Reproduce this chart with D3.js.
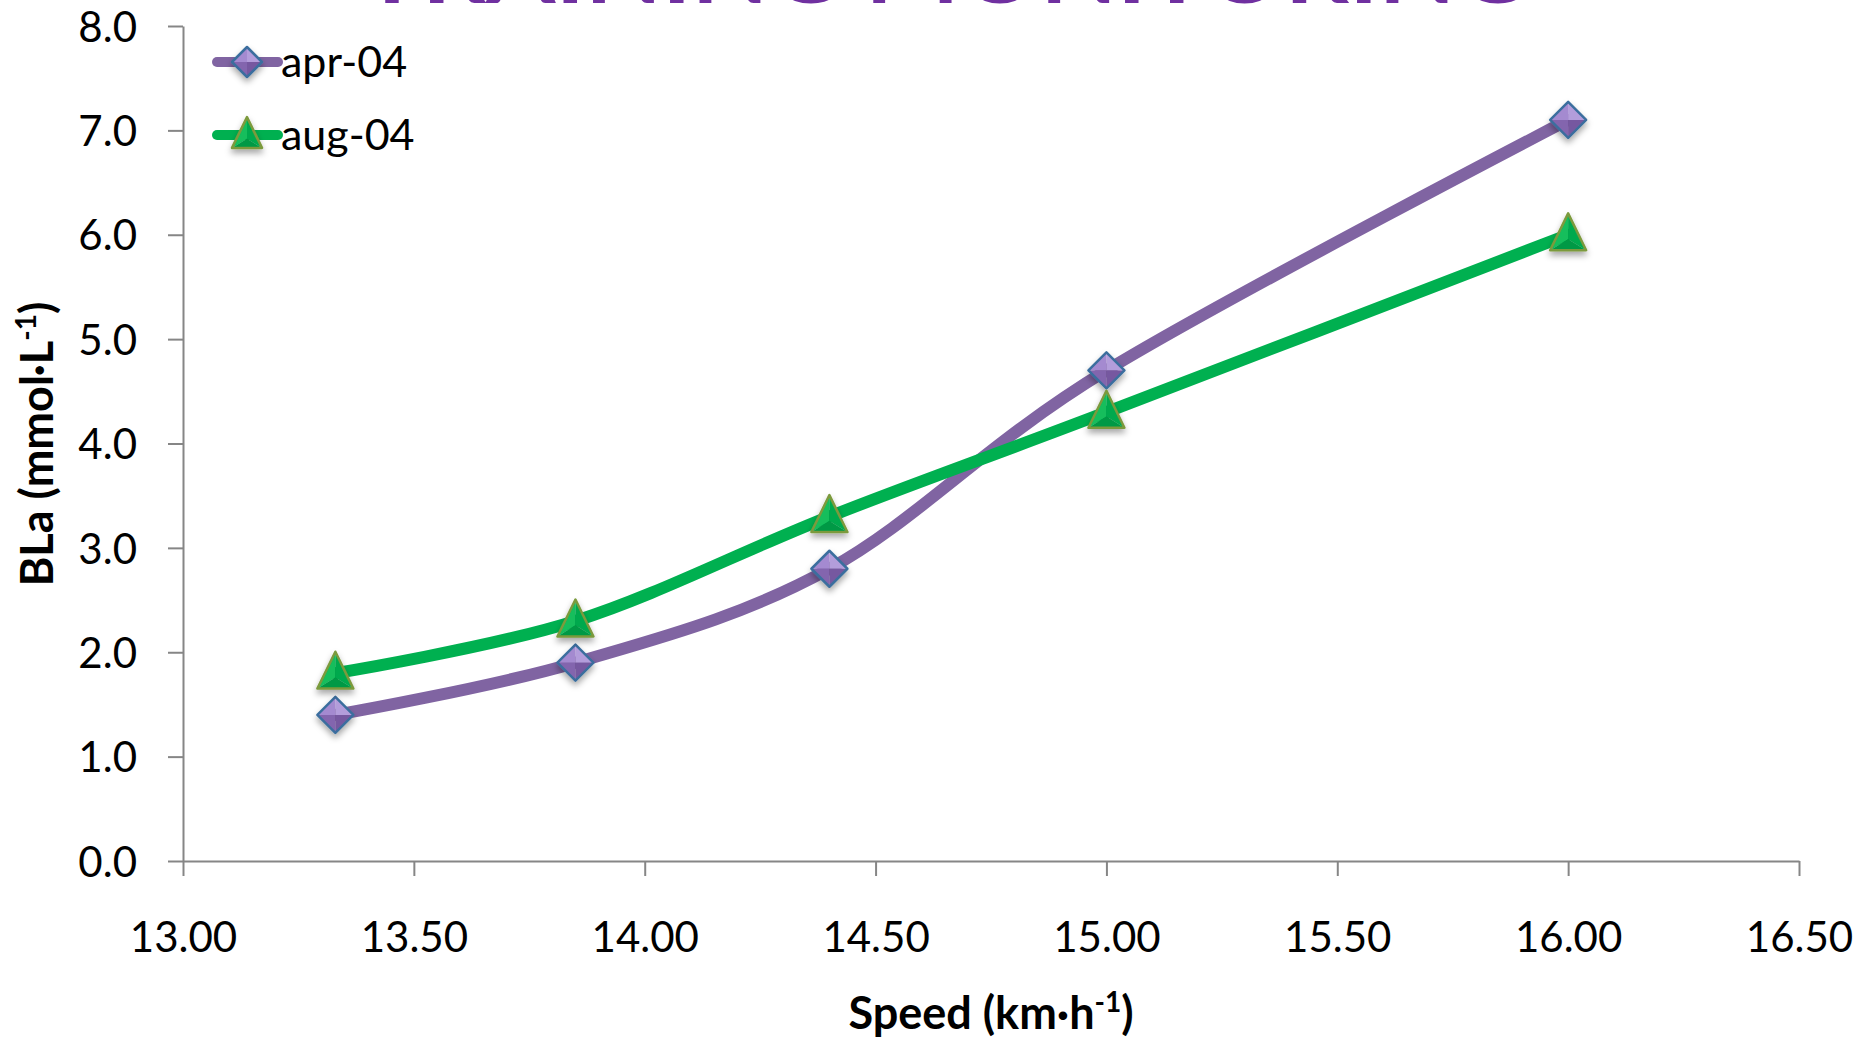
<!DOCTYPE html>
<html>
<head>
<meta charset="utf-8">
<script src="https://cdn.jsdelivr.net/npm/d3@7"></script>
<style>
  html, body { margin: 0; padding: 0; background: #fff; }
  svg { display: block; }
  text { font-family: Lato, "Open Sans", sans-serif; }
</style>
</head>
<body>
<script>
var speeds = [13.33, 13.85, 14.40, 15.00, 16.00];
var apr04 = [1.4, 1.9, 2.8, 4.7, 7.1];
var aug04 = [1.8, 2.3, 3.3, 4.3, 6.0];
var seriesNames = ["apr-04", "aug-04"];
var xTicks = [13.0, 13.5, 14.0, 14.5, 15.0, 15.5, 16.0, 16.5];
var yTicks = [0, 1, 2, 3, 4, 5, 6, 7, 8];

var W = 1871, H = 1039;
var svg = d3.select("body").append("svg").attr("width", W).attr("height", H);

var defs = svg.append("defs");
var shadow = defs.append("filter").attr("id", "shadow")
    .attr("x", "-50%").attr("y", "-50%").attr("width", "200%").attr("height", "200%");
shadow.append("feDropShadow").attr("dx", 0).attr("dy", 4).attr("stdDeviation", 3)
    .attr("flood-color", "#000").attr("flood-opacity", 0.35);

var x = d3.scaleLinear().domain([13, 16.5]).range([183, 1799]);
var y = d3.scaleLinear().domain([0, 8]).range([861, 26]);

// title, mostly cut off above the top edge (as in the slide)
svg.append("text").text("TRAINING MONITORING")
    .attr("x", 945).attr("y", 3)
    .attr("text-anchor", "middle")
    .attr("textLength", 1166).attr("lengthAdjust", "spacingAndGlyphs")
    .attr("fill", "#7030A0").attr("font-weight", "bold").attr("font-size", 92);

// axes
var axisColor = "#868686";
var gx = svg.append("g").attr("transform", "translate(0," + y(0) + ")")
    .call(d3.axisBottom(x).tickValues(xTicks).tickFormat(d3.format(".2f")).tickSizeInner(15).tickSizeOuter(0).tickPadding(68));
var gy = svg.append("g").attr("transform", "translate(" + x(13) + ",0)")
    .call(d3.axisLeft(y).tickValues(yTicks).tickFormat(d3.format(".1f")).tickSizeInner(15).tickSizeOuter(0).tickPadding(31));
[gx, gy].forEach(function (g) {
    g.select(".domain").attr("stroke", axisColor).attr("stroke-width", 2);
    g.selectAll(".tick line").attr("stroke", axisColor).attr("stroke-width", 2);
    g.selectAll(".tick text").attr("fill", "#000").attr("font-size", 42)
        .attr("font-family", "Lato, 'Open Sans', sans-serif");
});
gx.selectAll(".tick text").attr("dy", "0.2em");
gy.selectAll(".tick text").attr("dy", "0.36em");

// axis titles
var xt = svg.append("text").attr("x", 991).attr("y", 1029)
    .attr("text-anchor", "middle").attr("font-weight", "bold").attr("font-size", 45);
xt.append("tspan").text("Speed (km\u00b7h");
xt.append("tspan").text("-1").attr("font-size", 28).attr("dy", -17);
xt.append("tspan").text(")").attr("dy", 17);

var yt = svg.append("text").attr("transform", "translate(53,444) rotate(-90)")
    .attr("text-anchor", "middle").attr("font-weight", "bold").attr("font-size", 45);
yt.append("tspan").text("BLa (mmol\u00b7L");
yt.append("tspan").text("-1").attr("font-size", 28).attr("dy", -17);
yt.append("tspan").text(")").attr("dy", 17);

// series
var series = [
    { name: seriesNames[0], values: apr04, color: "#8064A2", marker: "diamond" },
    { name: seriesNames[1], values: aug04, color: "#00B050", marker: "triangle" }
];

var line = d3.line()
    .x(function (d, i) { return x(speeds[i]); })
    .y(function (d) { return y(d); })
    .curve(d3.curveCatmullRom.alpha(0));

series.forEach(function (s) {
    svg.append("path").attr("d", line(s.values))
        .attr("fill", "none").attr("stroke", s.color).attr("stroke-width", 12)
        .attr("stroke-linecap", "round").attr("stroke-linejoin", "round");
});

function drawMarker(g, type, cx, cy, r) {
    var m = g.append("g").attr("transform", "translate(" + cx + "," + cy + ")")
        .attr("filter", "url(#shadow)");
    if (type === "diamond") {
        // four facets of a little pyramid
        m.append("path").attr("d", "M0," + (-r) + " L" + (-r) + ",0 L0,0 Z").attr("fill", "#A48AD0");
        m.append("path").attr("d", "M0," + (-r) + " L" + r + ",0 L0,0 Z").attr("fill", "#B39DDB");
        m.append("path").attr("d", "M" + (-r) + ",0 L0," + r + " L0,0 Z").attr("fill", "#8365AE");
        m.append("path").attr("d", "M" + r + ",0 L0," + r + " L0,0 Z").attr("fill", "#7659A0");
        m.append("path").attr("d", "M0," + (-r) + " L" + r + ",0 L0," + r + " L" + (-r) + ",0 Z")
            .attr("fill", "none").attr("stroke", "#3B6E9E").attr("stroke-width", 2.5)
            .attr("stroke-linejoin", "round");
    } else {
        var h = r * 2.05, top = -h * 0.58, bot = h * 0.42, cyc = h * 0.12;
        m.append("path").attr("d", "M0," + top + " L" + (-r) + "," + bot + " L0," + cyc + " Z").attr("fill", "#12BE5C");
        m.append("path").attr("d", "M0," + top + " L" + r + "," + bot + " L0," + cyc + " Z").attr("fill", "#05A94E");
        m.append("path").attr("d", "M" + (-r) + "," + bot + " L" + r + "," + bot + " L0," + cyc + " Z").attr("fill", "#009944");
        m.append("path").attr("d", "M0," + top + " L" + r + "," + bot + " L" + (-r) + "," + bot + " Z")
            .attr("fill", "none").attr("stroke", "#7C9A3C").attr("stroke-width", 2.5)
            .attr("stroke-linejoin", "round");
    }
}

var markers = svg.append("g");
series.forEach(function (s) {
    s.values.forEach(function (v, i) {
        drawMarker(markers, s.marker, x(speeds[i]), y(v), 18);
    });
});

// legend
var legend = svg.append("g");
var legendY = [62, 135];
series.forEach(function (s, i) {
    var ly = legendY[i];
    legend.append("line").attr("x1", 217).attr("x2", 278).attr("y1", ly).attr("y2", ly)
        .attr("stroke", s.color).attr("stroke-width", 10).attr("stroke-linecap", "round");
    drawMarker(legend, s.marker, 247, ly, 15);
    legend.append("text").text(s.name).attr("x", 281).attr("y", ly + 15)
        .attr("font-size", 43).attr("fill", "#000");
});
</script>
</body>
</html>
